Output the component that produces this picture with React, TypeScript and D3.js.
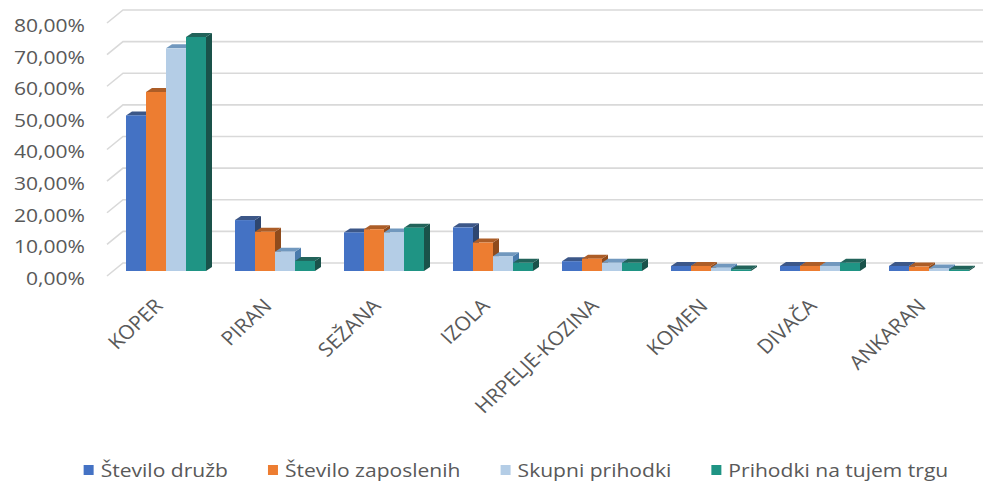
import React from "react";
import * as d3 from "d3";

const categories = ["KOPER", "PIRAN", "SEŽANA", "IZOLA", "HRPELJE-KOZINA", "KOMEN", "DIVAČA", "ANKARAN"];
const seriesNames = ["Število družb", "Število zaposlenih", "Skupni prihodki", "Prihodki na tujem trgu"];
const steviloDruzb = [49.2, 16.1, 12.2, 13.8, 3.1, 1.6, 1.6, 1.6];
const steviloZaposlenih = [56.6, 12.4, 13.2, 9.0, 3.9, 1.6, 1.6, 1.4];
const skupniPrihodki = [70.4, 6.1, 12.2, 4.7, 2.6, 1.0, 1.6, 0.8];
const prihodkiTujina = [74.0, 3.2, 13.7, 2.6, 2.6, 0.5, 2.6, 0.4];
const yTicks = [0, 10, 20, 30, 40, 50, 60, 70, 80];
const colors = ["#4472C4", "#ED7D31", "#B4CDE6", "#1F9484"];

const W = 983;
const H = 483;
const SX = 1.17; // horizontal stretch of text
const FONT = '"Open Sans", "Noto Sans", sans-serif';

const locale = d3.formatLocale({ decimal: ",", thousands: ".", grouping: [3], currency: ["", "€"] });
const fmt = (v: number) => locale.format(".2f")(v) + "%";

function measure(text: string, size: number) {
  const c = document.createElement("canvas").getContext("2d");
  if (!c) return text.length * size * 0.5;
  c.font = `${size}px ${FONT}`;
  return c.measureText(text).width;
}

export default function App() {
  const allSeries = [steviloDruzb, steviloZaposlenih, skupniPrihodki, prihodkiTujina];
  const baseY = 271;
  const y = d3.scaleLinear().domain([0, 80]).range([baseY, baseY - 253]);
  const x = d3
    .scaleBand<string>()
    .domain(categories)
    .range([111.5, 983.5])
    .paddingInner(0.266)
    .paddingOuter(0.133);
  const xs = d3.scaleBand<string>().domain(seriesNames).range([0, x.bandwidth()]);
  const bw = xs.bandwidth();
  const ddx = 6;
  const ddy = 4;
  const wallDx = 16;
  const wallDy = 13;
  const frontOff = 5;
  const axisX = 107;

  const grid = yTicks.map((t) => {
    const yf = y(t) + frontOff;
    return (
      <g key={t}>
        <polyline
          points={`${axisX},${yf} ${axisX + wallDx},${yf - wallDy} ${W},${yf - wallDy}`}
          fill="none"
          stroke="#d9d9d9"
          strokeWidth={1.6}
        />
        <text
          transform={`translate(85,${yf + 2}) scale(${SX},1)`}
          textAnchor="end"
          dominantBaseline="central"
          fontFamily={FONT}
          fontSize={18}
          fill="#595959"
        >
          {fmt(t)}
        </text>
      </g>
    );
  });

  const bars: React.ReactNode[] = [];
  categories.forEach((cat, i) => {
    seriesNames.forEach((s, j) => {
      const v = allSeries[j][i];
      const x0 = (x(cat) ?? 0) + (xs(s) ?? 0);
      const yt = y(v);
      const base = d3.hsl(colors[j]);
      const topC = d3.hsl(base.h, base.s * 0.75, base.l * 0.74).toString();
      const sideC = d3.hsl(base.h, base.s * 0.8, base.l * 0.6).toString();
      bars.push(
        <g key={`${i}-${j}`}>
          <polygon
            points={`${x0 + bw},${yt} ${x0 + bw + ddx},${yt - ddy} ${x0 + bw + ddx},${baseY - ddy} ${x0 + bw},${baseY}`}
            fill={sideC}
          />
          <polygon
            points={`${x0},${yt} ${x0 + ddx},${yt - ddy} ${x0 + bw + ddx},${yt - ddy} ${x0 + bw},${yt}`}
            fill={topC}
          />
          <rect x={x0} y={yt} width={bw} height={baseY - yt} fill={colors[j]} />
        </g>
      );
    });
  });

  const xLabels = categories.map((cat) => {
    const cx = (x(cat) ?? 0) + x.bandwidth() / 2 - 2;
    return (
      <text
        key={cat}
        transform={`translate(${cx},307) scale(1.08,1) rotate(-45)`}
        textAnchor="end"
        fontFamily={FONT}
        fontSize={19.5}
        fill="#595959"
      >
        {cat}
      </text>
    );
  });

  const legSize = 18;
  const sq = 10;
  const gapSqText = 7;
  const gapItems = 40;
  const widths = seriesNames.map((s) => measure(s, legSize) * SX);
  const itemW = widths.map((w) => sq + gapSqText + w);
  const total = d3.sum(itemW) + gapItems * (seriesNames.length - 1);
  let lx = 516 - total / 2;
  const legend = seriesNames.map((s, j) => {
    const x0 = lx;
    lx += itemW[j] + gapItems;
    return (
      <g key={s}>
        <rect x={x0} y={465} width={sq} height={sq} fill={colors[j]} />
        <text
          transform={`translate(${x0 + sq + gapSqText},477) scale(${SX},1)`}
          fontFamily={FONT}
          fontSize={legSize}
          fill="#595959"
        >
          {s}
        </text>
      </g>
    );
  });

  return (
    <svg
      width={W}
      height={H}
      viewBox={`0 0 ${W} ${H}`}
      style={{ position: "absolute", left: 0, top: 0, background: "#fff" }}
    >
      <rect width={W} height={H} fill="#fff" />
      {grid}
      {bars}
      {xLabels}
      {legend}
    </svg>
  );
}
